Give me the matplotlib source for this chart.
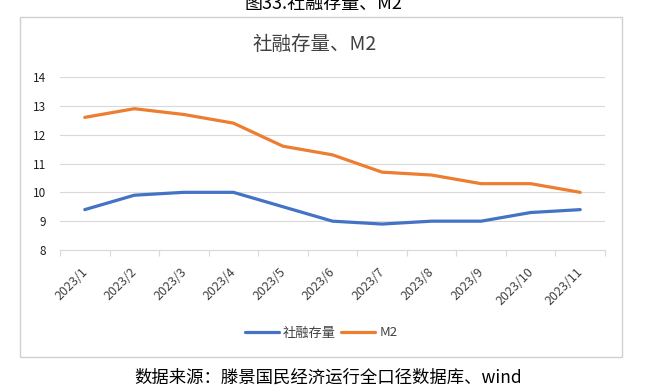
import matplotlib
matplotlib.use("Agg")
import matplotlib.pyplot as plt
from matplotlib.patches import Rectangle
import matplotlib.transforms as mtransforms

plt.rcParams['font.family'] = ['Noto Sans CJK SC', 'DejaVu Sans']

categories = ["2023/1", "2023/2", "2023/3", "2023/4", "2023/5", "2023/6",
              "2023/7", "2023/8", "2023/9", "2023/10", "2023/11"]
tsf = [9.4, 9.9, 10.0, 10.0, 9.5, 9.0, 8.9, 9.0, 9.0, 9.3, 9.4]
m2 = [12.6, 12.9, 12.7, 12.4, 11.6, 11.3, 10.7, 10.6, 10.3, 10.3, 10.0]
yticks = [8, 9, 10, 11, 12, 13, 14]

W, H = 660, 386
fig = plt.figure(figsize=(6.6, 3.86), dpi=100)

def fx(px):
    return px / W

def fy(py):
    return 1 - py / H

# chart box
fig.patches.append(Rectangle((fx(20), fy(357)), fx(622) - fx(20), fy(17) - fy(357),
                             transform=fig.transFigure, fill=False,
                             edgecolor="#D0D0D0", linewidth=1.0))

ax = fig.add_axes([fx(60), fy(250), fx(605) - fx(60), fy(77) - fy(250)])
x = list(range(len(categories)))
l1, = ax.plot(x, tsf, color="#4472C4", linewidth=2.3, label="社融存量", solid_capstyle='round')
l2, = ax.plot(x, m2, color="#ED7D31", linewidth=2.3, label="M2", solid_capstyle='round')

ax.set_xlim(-0.5, len(categories) - 0.5)
ax.set_ylim(8, 14)
ax.set_yticks(yticks)
ax.set_yticklabels([str(v) for v in yticks], fontsize=8.5)
ax.tick_params(axis='y', length=0, pad=10)
ax.grid(axis='y', color="#D9D9D9", linewidth=0.8)
ax.set_axisbelow(True)
for s in ["top", "right", "left"]:
    ax.spines[s].set_visible(False)
ax.spines["bottom"].set_color("#D9D9D9")
ax.spines["bottom"].set_linewidth(0.8)

ax.set_xticks([i - 0.5 for i in range(len(categories) + 1)], minor=True)
ax.tick_params(axis='x', which='minor', length=4, color="#D9D9D9", width=0.8)
ax.set_xticks(x)
ax.set_xticklabels(categories, rotation=45, ha='right', rotation_mode='anchor', fontsize=9)
ax.tick_params(axis='x', which='major', length=0, pad=11)
offset = mtransforms.ScaledTranslation(-4 / 100, 0, fig.dpi_scale_trans)
for lab in ax.get_xticklabels():
    lab.set_transform(lab.get_transform() + offset)
    lab.set_color("#404040")
for lab in ax.get_yticklabels():
    lab.set_color("#202020")

fig.text(fx(315), fy(44), "社融存量、M2", ha='center', va='center', fontsize=14, color="#404040")
fig.text(fx(323), fy(4), "图33.社融存量、M2", ha='center', va='center', fontsize=13, color="#000000")
fig.text(fx(328), fy(378), "数据来源：滕景国民经济运行全口径数据库、wind", ha='center', va='center',
         fontsize=12.5, color="#000000")

fig.legend(handles=[l1, l2], loc='center', bbox_to_anchor=(fx(321), fy(333)), ncol=2,
           frameon=False, fontsize=9.5, handlelength=2.6, columnspacing=0.4, handletextpad=0.3,
           labelcolor="#404040")

fig.savefig("out.png", dpi=100)
